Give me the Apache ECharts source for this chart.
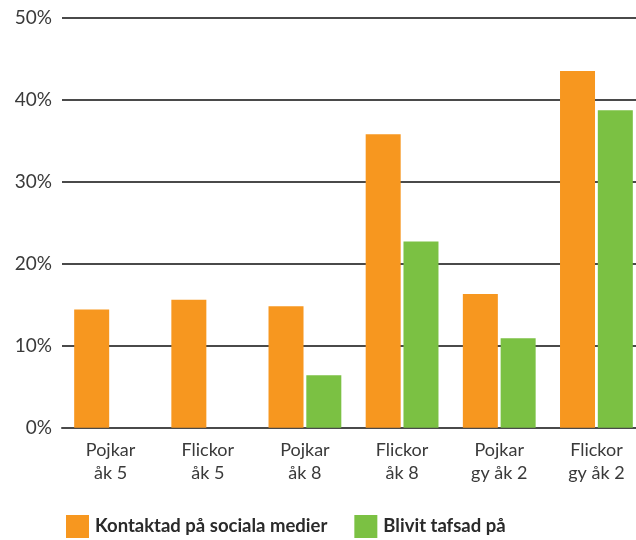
<!DOCTYPE html>
<html>
<head>
<meta charset="utf-8">
<script src="https://cdn.jsdelivr.net/npm/echarts@6/dist/echarts.min.js"></script>
<style>
  html, body { margin: 0; padding: 0; background: #fff; }
  #chart { width: 636px; height: 540px; }
</style>
</head>
<body>
<div id="chart"></div>
<script>
// Andel elever (%) per grupp
const categories = ['Pojkar\nåk 5', 'Flickor\nåk 5', 'Pojkar\nåk 8', 'Flickor\nåk 8', 'Pojkar\ngy åk 2', 'Flickor\ngy åk 2'];
const kontaktad = [14.4, 15.6, 14.8, 35.8, 16.3, 43.5];
const tafsad = [null, null, 6.4, 22.7, 10.9, 38.7];
const seriesNames = ['Kontaktad på sociala medier', 'Blivit tafsad på'];
const yTicks = [0, 10, 20, 30, 40, 50];

const FONT = 'Lato';
const TEXT = '#3a3a3a';
const LINE = '#4a4a4a';

const chart = echarts.init(document.getElementById('chart'), null, { renderer: 'canvas' });
chart.setOption({
  animation: false,
  textStyle: { fontFamily: FONT },
  grid: { left: 62, top: 17.7, height: 410, width: 583, containLabel: false, outerBoundsMode: 'none' },
  legend: {
    left: 66, top: 515, padding: 0,
    itemWidth: 23, itemHeight: 23, itemGap: 27,
    icon: 'rect',
    data: seriesNames,
    textStyle: { fontFamily: FONT, fontSize: 18.5, fontWeight: 'bold', color: '#2a2a2a', padding: [0, 0, 0, 1] }
  },
  xAxis: {
    type: 'category',
    data: categories,
    axisLine: { show: true, lineStyle: { color: LINE, width: 2 } },
    axisTick: { show: false },
    axisLabel: { color: TEXT, fontSize: 18, lineHeight: 23, margin: 11, fontFamily: FONT }
  },
  yAxis: {
    type: 'value',
    min: yTicks[0], max: yTicks[yTicks.length - 1], interval: 10,
    axisLine: { show: false },
    axisTick: { show: false },
    splitLine: { lineStyle: { color: LINE, width: 2 } },
    axisLabel: { color: TEXT, fontSize: 19, margin: 10, fontFamily: FONT, padding: [5, 0, 0, 0], formatter: v => v + '%' }
  },
  series: [
    { name: seriesNames[0], type: 'bar', data: kontaktad, barWidth: 35, barGap: '8%', itemStyle: { color: '#F7971F' } },
    { name: seriesNames[1], type: 'bar', data: tafsad, barWidth: 35, itemStyle: { color: '#7BC143' } }
  ]
});
</script>
</body>
</html>
